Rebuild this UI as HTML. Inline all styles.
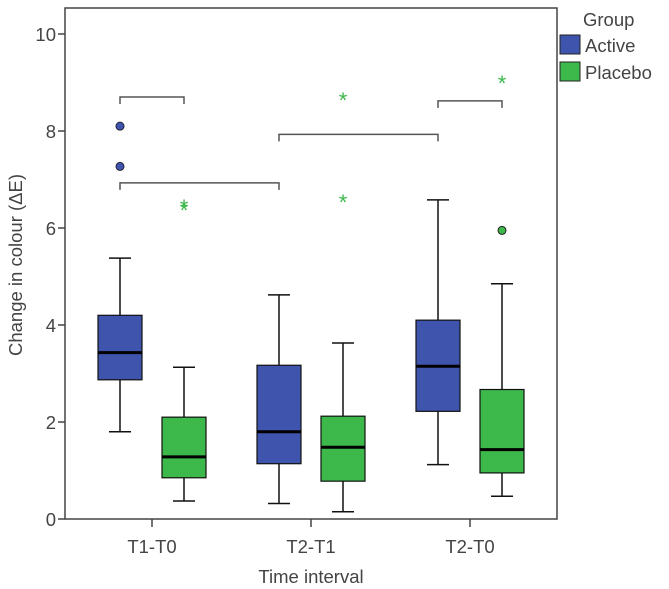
<!DOCTYPE html>
<html><head><meta charset="utf-8"><style>
body{margin:0;background:#fff;}
svg{display:block;font-family:"Liberation Sans",sans-serif;}
</style></head><body>
<svg id="chart" width="669" height="589">
<rect x="0" y="0" width="669" height="589" fill="#fff"/>
<rect x="65" y="8" width="492" height="511" fill="none" stroke="#444" stroke-width="1.5"/>
<g id="g"></g>
<text x="22" y="265" transform="rotate(-90 22 265)" text-anchor="middle" font-size="18.5" fill="#444">Change in colour (ΔE)</text>
<text x="311" y="583" text-anchor="middle" font-size="18.5" fill="#444">Time interval</text>
<g>
<text x="583" y="26" font-size="18.5" fill="#444">Group</text>
<rect x="560" y="35" width="20" height="19" fill="#3f55ad" stroke="#222"/>
<text x="585" y="52" font-size="18.5" fill="#444">Active</text>
<rect x="560" y="62" width="20" height="19" fill="#3db84a" stroke="#222"/>
<text x="585" y="79" font-size="18.5" fill="#444">Placebo</text>
</g>
</svg>
<script>
const categories=["T1-T0","T2-T1","T2-T0"];
const groups=["Active","Placebo"];
const activeStats=[[1.8,2.87,3.43,4.2,5.38],[0.32,1.14,1.8,3.17,4.62],[1.12,2.22,3.15,4.1,6.58]];
const placeboStats=[[0.37,0.85,1.28,2.1,3.13],[0.15,0.78,1.48,2.12,3.63],[0.47,0.95,1.43,2.67,4.85]];
const activeOutliers=[[8.1,7.27],[],[]];
const placeboOutliers=[[],[],[5.95]];
const placeboExtremes=[[6.43,6.5],[8.7,6.6],[9.05]];
const yTicks=[0,2,4,6,8,10];
const brackets=[[0,0,0,1,8.7],[0,0,1,0,6.93],[1,0,2,0,7.93],[2,0,2,1,8.62]];
const colors=["#3f55ad","#3db84a"];
const NS="http://www.w3.org/2000/svg";
const g=document.getElementById("g");
function y(v){return 519-v*48.5;}
function xc(i){return 152+i*159;}
function xg(i,k){return xc(i)+(k===0?-32:32);}
function el(t,a){const e=document.createElementNS(NS,t);for(const k in a)e.setAttribute(k,a[k]);g.appendChild(e);return e;}
yTicks.forEach(t=>{
 const l=el("line",{x1:58,x2:65,y1:y(t),y2:y(t),stroke:"#444","stroke-width":1.5});
 
 
 const tx=el("text",{x:56,y:y(t)+7,"text-anchor":"end","font-size":18.5,fill:"#444"});
 tx.textContent=t;
 
 
});
categories.forEach((c,i)=>{
 const l=el("line",{x1:xc(i),x2:xc(i),y1:519,y2:527,stroke:"#444","stroke-width":1.5});
 
 
 const tx=el("text",{x:xc(i),y:553,"text-anchor":"middle","font-size":18.5,fill:"#444"});
 tx.textContent=c;
 
 
});
function box(s,i,k){
 const cx=xg(i,k),w=44,cap=11;
 const a={stroke:"#111","stroke-width":1.5};
 let e=el("line",Object.assign({x1:cx,x2:cx,y1:y(s[0]),y2:y(s[1])},a));
 
 
 e=el("line",Object.assign({x1:cx,x2:cx,y1:y(s[3]),y2:y(s[4])},a));
 
 
 e=el("line",Object.assign({x1:cx-cap,x2:cx+cap,y1:y(s[0]),y2:y(s[0])},a));
 
 
 e=el("line",Object.assign({x1:cx-cap,x2:cx+cap,y1:y(s[4]),y2:y(s[4])},a));
 
 
 e=el("rect",{x:cx-w/2,y:y(s[3]),width:w,height:y(s[1])-y(s[3]),fill:colors[k],stroke:"#111","stroke-width":1.2});
 
 
 e=el("line",{x1:cx-w/2,x2:cx+w/2,y1:y(s[2]),y2:y(s[2]),stroke:"#000","stroke-width":3});
 
 
}
categories.forEach((c,i)=>{
 box(activeStats[i],i,0);box(placeboStats[i],i,1);
 activeOutliers[i].forEach(v=>{const e=el("circle",{cx:xg(i,0),cy:y(v),r:4,fill:colors[0],stroke:"#223"});
  
  });
 placeboOutliers[i].forEach(v=>{const e=el("circle",{cx:xg(i,1),cy:y(v),r:4,fill:colors[1],stroke:"#222"});
  
  });
 placeboExtremes[i].forEach(v=>{const e=el("text",{x:xg(i,1),y:y(v)+11,"text-anchor":"middle","font-size":22,fill:colors[1]});
  e.textContent="*";
  
  });
});
brackets.forEach(b=>{
 const x1=xg(b[0],b[1]),x2=xg(b[2],b[3]),yy=y(b[4]);
 const e=el("path",{d:`M${x1} ${yy+7}V${yy}H${x2}V${yy+7}`,fill:"none",stroke:"#555","stroke-width":1.5});
 
 
});
</script>
</body></html>
